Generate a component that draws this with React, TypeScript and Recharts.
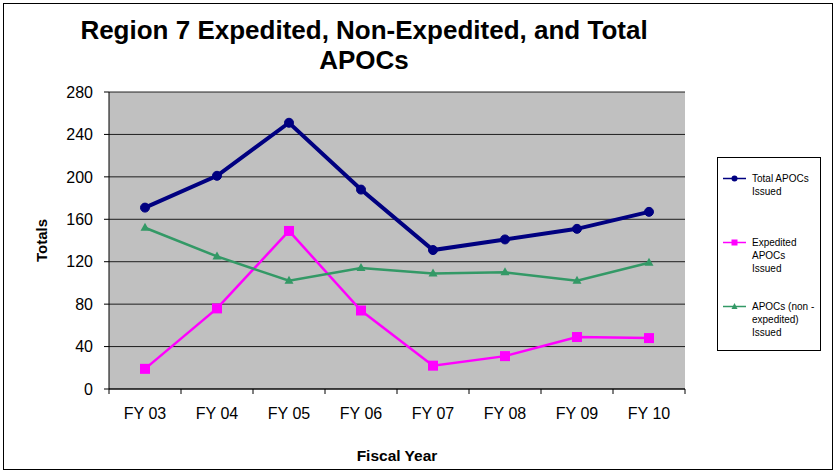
import React from 'react';
import { LineChart, Line, XAxis, YAxis, CartesianGrid } from 'recharts';

const categories = ['FY 03', 'FY 04', 'FY 05', 'FY 06', 'FY 07', 'FY 08', 'FY 09', 'FY 10'];
const totalIssued = [171, 201, 251, 188, 131, 141, 151, 167];
const expeditedIssued = [19, 76, 149, 74, 22, 31, 49, 48];
const nonExpeditedIssued = [152, 125, 102, 114, 109, 110, 102, 119];
const yTicks = [0, 40, 80, 120, 160, 200, 240, 280];

const titleLines = ['Region 7 Expedited, Non-Expedited, and Total', 'APOCs'];
const legendItems = [
  { key: 'total', color: '#000080', shape: 'circle', lines: ['Total APOCs', 'Issued'] },
  { key: 'exp', color: '#FF00FF', shape: 'square', lines: ['Expedited', 'APOCs', 'Issued'] },
  { key: 'non', color: '#339966', shape: 'triangle', lines: ['APOCs (non -', 'expedited)', 'Issued'] },
];

const data = categories.map((c, i) => ({
  name: c,
  total: totalIssued[i],
  exp: expeditedIssued[i],
  non: nonExpeditedIssued[i],
}));

const FONT = 'Arial, "Liberation Sans", Helvetica, sans-serif';
const HALF_BAND = 36;

const CircleDot = (props: any) => {
  const { cx, cy, index } = props;
  if (cx == null || cy == null) return <g key={index} />;
  return <circle key={index} cx={cx} cy={cy} r={4.5} fill="#000080" stroke="#000080" />;
};
const SquareDot = (props: any) => {
  const { cx, cy, index } = props;
  if (cx == null || cy == null) return <g key={index} />;
  return <rect key={index} x={cx - 5} y={cy - 5} width={10} height={10} fill="#FF00FF" />;
};
const TriDot = (props: any) => {
  const { cx, cy, index } = props;
  if (cx == null || cy == null) return <g key={index} />;
  return (
    <polygon key={index} points={`${cx},${cy - 5} ${cx + 4.5},${cy + 3} ${cx - 4.5},${cy + 3}`} fill="#339966" />
  );
};

const XTick = (props: any) => {
  const { x, y, payload, index } = props;
  const last = index === categories.length - 1;
  return (
    <g>
      <line x1={x - HALF_BAND} y1={y - 8} x2={x - HALF_BAND} y2={y - 3} stroke="#000" />
      {last && <line x1={x + HALF_BAND} y1={y - 8} x2={x + HALF_BAND} y2={y - 3} stroke="#000" />}
      <text x={x} y={y + 22} textAnchor="middle" fontSize={16} fontFamily={FONT} fill="#000">
        {payload.value}
      </text>
    </g>
  );
};

const LegendBox = () => (
  <div
    style={{
      position: 'absolute',
      left: 717,
      top: 157,
      width: 102,
      height: 192,
      border: '1px solid #000',
      background: '#fff',
      fontFamily: FONT,
      fontSize: 10,
      lineHeight: '13px',
    }}
  >
    {legendItems.map((it, k) => (
      <div key={it.key} style={{ position: 'absolute', left: 4, top: 14 + k * 64, display: 'flex' }}>
        <svg width={30} height={13} style={{ flex: 'none' }}>
          <line x1={1} y1={6.5} x2={24} y2={6.5} stroke={it.color} strokeWidth={1.5} />
          {it.shape === 'circle' && <circle cx={12.5} cy={6.5} r={3} fill={it.color} />}
          {it.shape === 'square' && <rect x={9.5} y={3.5} width={6} height={6} fill={it.color} />}
          {it.shape === 'triangle' && <polygon points="12.5,3 15.5,9 9.5,9" fill={it.color} />}
        </svg>
        <div>
          {it.lines.map((l) => (
            <div key={l}>{l}</div>
          ))}
        </div>
      </div>
    ))}
  </div>
);

export default function App() {
  return (
    <div style={{ position: 'absolute', left: 0, top: 0, width: 837, height: 473, background: '#fff' }}>
      <div
        style={{
          position: 'absolute',
          left: 3,
          top: 3,
          width: 830,
          height: 467,
          border: '1px solid #000',
          boxSizing: 'border-box',
        }}
      />
      <div
        style={{
          position: 'absolute',
          left: 0,
          top: 15,
          width: 728,
          textAlign: 'center',
          fontFamily: FONT,
          fontWeight: 'bold',
          fontSize: 26,
          lineHeight: '30px',
        }}
      >
        {titleLines.map((t) => (
          <div key={t}>{t}</div>
        ))}
      </div>
      <div style={{ position: 'absolute', left: 0, top: 0 }}>
        <LineChart
          width={837}
          height={473}
          data={data}
          margin={{ top: 92, right: 152, bottom: 54, left: 59 }}
        >
          <CartesianGrid vertical={false} fill="#C0C0C0" stroke="#000" strokeOpacity={0.85} />
          <XAxis
            dataKey="name"
            scale="band"
            height={30}
            axisLine={{ stroke: '#000' }}
            tickLine={false}
            tick={<XTick />}
            interval={0}
            label={{
              value: 'Fiscal Year',
              position: 'bottom',
              offset: 31,
              style: { fontFamily: FONT, fontWeight: 'bold', fontSize: 15.5, fill: '#000' },
            }}
          />
          <YAxis
            width={50}
            domain={[0, 280]}
            ticks={yTicks}
            interval={0}
            axisLine={{ stroke: '#000' }}
            tickLine={{ stroke: '#000' }}
            tickSize={5}
            tickMargin={11}
            tick={{ fontFamily: FONT, fontSize: 16, fill: '#000' }}
            label={{
              value: 'Totals',
              angle: -90,
              position: 'insideLeft',
              offset: -17,
              style: { fontFamily: FONT, fontWeight: 'bold', fontSize: 15, fill: '#000', textAnchor: 'middle' },
            }}
          />
          <YAxis
            yAxisId="border"
            orientation="right"
            width={0}
            domain={[0, 280]}
            tick={false}
            tickLine={false}
            axisLine={{ stroke: '#808080' }}
          />
          <Line
            dataKey="total"
            stroke="#000080"
            strokeWidth={4}
            dot={<CircleDot />}
            isAnimationActive={false}
          />
          <Line
            dataKey="exp"
            stroke="#FF00FF"
            strokeWidth={2.5}
            dot={<SquareDot />}
            isAnimationActive={false}
          />
          <Line
            dataKey="non"
            stroke="#339966"
            strokeWidth={2.5}
            dot={<TriDot />}
            isAnimationActive={false}
          />
        </LineChart>
      </div>
      <LegendBox />
    </div>
  );
}
